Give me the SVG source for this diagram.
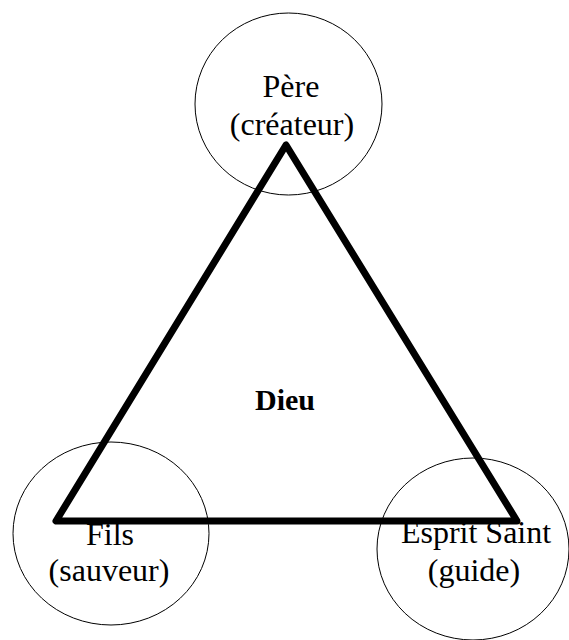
<svg xmlns="http://www.w3.org/2000/svg" width="569" height="640" viewBox="0 0 569 640">
<style>
.c{fill:none;stroke:#000;stroke-width:1}
.t{font-family:"Liberation Serif","Times New Roman",serif;font-size:32px;fill:#000;text-anchor:middle}
.b{font-weight:bold;font-size:30px}
.tri{fill:none;stroke:#000;stroke-width:7;stroke-linejoin:round}
</style>
<rect width="569" height="640" fill="#fff"/>
<g id="pere">
<ellipse class="c" cx="288.5" cy="104" rx="93.5" ry="91"/>
<text class="t" x="291" y="97">Père</text>
<text class="t" x="292" y="135">(créateur)</text>
</g>
<g id="fils">
<ellipse class="c" cx="111" cy="533.5" rx="98" ry="91.5"/>
<text class="t" x="110" y="545">Fils</text>
<text class="t" x="109" y="581">(sauveur)</text>
</g>
<g id="esprit">
<ellipse class="c" cx="473" cy="549" rx="96" ry="91"/>
<text class="t" x="476" y="543">Esprit Saint</text>
<text class="t" x="474" y="581">(guide)</text>
</g>
<g id="connectors">
<polygon class="tri" points="286,145 56,521 517,521"/>
</g>
<g id="dieu">
<text class="t b" x="285" y="410">Dieu</text>
</g>
</svg>
